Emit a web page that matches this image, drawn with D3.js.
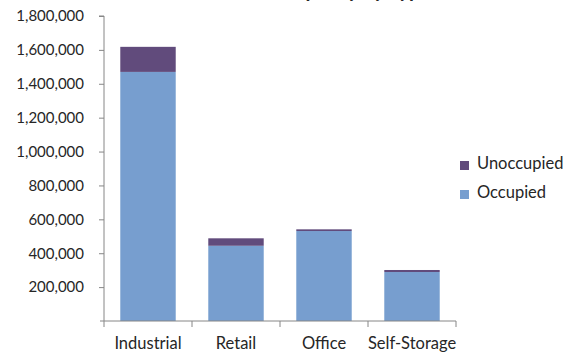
<!DOCTYPE html>
<html>
<head>
<meta charset="utf-8">
<script src="https://cdn.jsdelivr.net/npm/d3@7"></script>
<style>
  body { margin: 0; background: #fff; }
  text { font-family: Lato, "Open Sans", sans-serif; fill: #262626; }
</style>
</head>
<body>
<svg id="chart"></svg>
<script>
const categories = ['Industrial', 'Retail', 'Office', 'Self-Storage'];
const occupied = [1470000, 444000, 531000, 289000];
const unoccupied = [148000, 44000, 10000, 12000];
const seriesNames = ['Occupied', 'Unoccupied'];
const yTicks = [200000, 400000, 600000, 800000, 1000000, 1200000, 1400000, 1600000, 1800000];
const title = 'Occupancy by Type';

const width = 575, height = 356;
const margin = {top: 16, left: 104, right: 119, bottom: 35};
const colors = {Occupied: '#779ecf', Unoccupied: '#614b7c'};
const axisColor = '#868686';

const svg = d3.select('#chart')
    .attr('width', width)
    .attr('height', height);

const rows = categories.map((c, i) => ({category: c, Occupied: occupied[i], Unoccupied: unoccupied[i]}));
const stacked = d3.stack().keys(seriesNames)(rows);

const x = d3.scaleBand()
    .domain(categories)
    .range([margin.left, width - margin.right])
    .paddingInner(0.37)
    .paddingOuter(0.185);

const y = d3.scaleLinear()
    .domain([0, 1800000])
    .range([height - margin.bottom, margin.top]);

// title mostly clipped above the window, like the original
svg.append('text')
    .attr('x', 345)
    .attr('y', -3)
    .attr('text-anchor', 'middle')
    .style('font-size', '20px')
    .style('font-weight', 'bold')
    .text(title);

svg.append('g')
    .selectAll('g')
    .data(stacked)
    .join('g')
    .attr('fill', d => colors[d.key])
    .selectAll('rect')
    .data(d => d)
    .join('rect')
    .attr('x', d => x(d.data.category))
    .attr('width', x.bandwidth())
    .attr('y', d => y(d[1]))
    .attr('height', d => y(d[0]) - y(d[1]));

// y axis
const yAxis = svg.append('g')
    .attr('transform', `translate(${margin.left},0)`)
    .call(d3.axisLeft(y).tickValues(yTicks).tickSize(5).tickPadding(15).tickFormat(d3.format(',')));
yAxis.select('.domain').attr('stroke', axisColor).attr('d', `M-5,${y(1800000)}H0V${y(0)}`);
yAxis.selectAll('.tick line').attr('stroke', axisColor);
yAxis.selectAll('.tick text').style('font-size', '15px');

// x axis
const xAxis = svg.append('g')
    .attr('transform', `translate(0,${y(0)})`)
    .call(d3.axisBottom(x).tickSize(0).tickPadding(16));
xAxis.select('.domain').attr('stroke', axisColor).attr('d', `M${margin.left - 4},0H${width - margin.right}`);
xAxis.selectAll('.tick text').style('font-size', '16.5px');

const step = x.step();
xAxis.selectAll('.sep')
    .data(d3.range(categories.length + 1))
    .join('line')
    .attr('stroke', axisColor)
    .attr('x1', i => margin.left + i * step)
    .attr('x2', i => margin.left + i * step)
    .attr('y1', 0)
    .attr('y2', 6);

// legend
const legend = svg.append('g')
    .attr('transform', 'translate(460,161)');
const legendItems = legend.selectAll('g')
    .data(['Unoccupied', 'Occupied'])
    .join('g')
    .attr('transform', (d, i) => `translate(0,${i * 29})`);
legendItems.append('rect')
    .attr('width', 9)
    .attr('height', 9)
    .attr('fill', d => colors[d]);
legendItems.append('text')
    .attr('x', 17)
    .attr('y', 8)
    .style('font-size', '16.5px')
    .text(d => d);
</script>
</body>
</html>
